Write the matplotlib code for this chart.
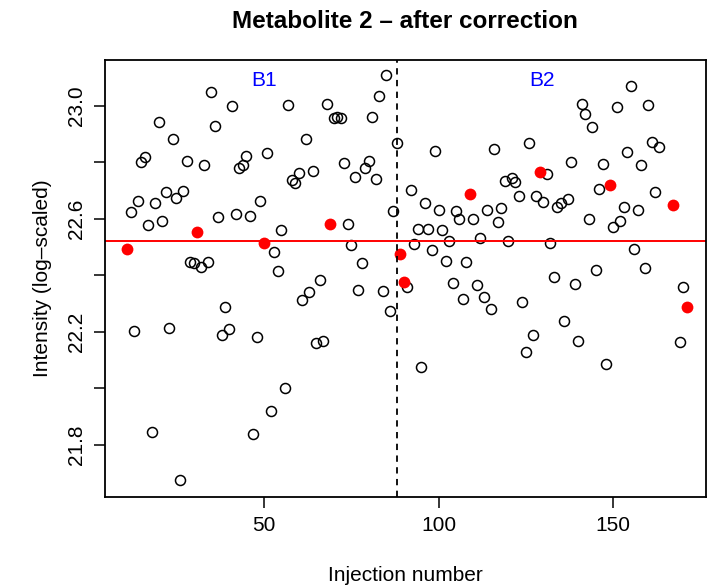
import numpy as np
import matplotlib.pyplot as plt

plt.rcParams['font.family'] = ['Liberation Sans', 'DejaVu Sans']

# batch 1: injections 11..89
b1_x = list(range(11, 90))
b1_y = [22.493, 22.626, 22.205, 22.664, 22.803, 22.821, 22.579, 21.847, 22.655, 22.942,
        22.594, 22.695, 22.213, 22.882, 22.673, 21.676, 22.699, 22.805, 22.447, 22.443,
        22.553, 22.431, 22.791, 22.449, 23.048, 22.930, 22.608, 22.189, 22.290, 22.211,
        23.001, 22.617, 22.782, 22.791, 22.824, 22.612, 21.839, 22.181, 22.663, 22.515,
        22.833, 21.920, 22.482, 22.416, 22.561, 22.001, 23.004, 22.738, 22.728, 22.762,
        22.313, 22.882, 22.343, 22.770, 22.161, 22.384, 22.168, 23.006, 22.581, 22.956,
        22.962, 22.956, 22.797, 22.581, 22.508, 22.750, 22.349, 22.443, 22.782, 22.805,
        22.960, 22.741, 23.036, 22.345, 23.110, 22.274, 22.629, 22.868, 22.476]

# batch 2: injections 90..171 (some missing)
b2_x = list(range(90, 164)) + [167, 169, 170, 171]
b2_y = [22.376, 22.360, 22.703, 22.510, 22.565, 22.075, 22.657, 22.565, 22.490, 22.841,
        22.632, 22.561, 22.451, 22.522, 22.372, 22.628, 22.600, 22.317, 22.447, 22.690,
        22.600, 22.366, 22.532, 22.325, 22.632, 22.281, 22.847, 22.588, 22.640, 22.735,
        22.522, 22.746, 22.732, 22.683, 22.305, 22.130, 22.868, 22.190, 22.681, 22.767,
        22.660, 22.759, 22.514, 22.396, 22.644, 22.658, 22.239, 22.669, 22.801, 22.369,
        22.168, 23.006, 22.972, 22.600, 22.925, 22.419, 22.706, 22.794, 22.086, 22.720,
        22.571, 22.998, 22.593, 22.644, 22.838, 23.072, 22.494, 22.632, 22.791, 22.428,
        23.004, 22.872, 22.697, 22.854, 22.650, 22.165, 22.358, 22.287]

# QC injections (red filled)
qc_x = [11, 31, 50, 69, 89, 90, 109, 129, 149, 167, 171]

qc_level = 22.523
batch_split = 88
batch_labels = ['B1', 'B2']
batch_label_x = [50, 129.5]

x = np.array(b1_x + b2_x)
y = np.array(b1_y + b2_y)
is_qc = np.isin(x, qc_x)

fig = plt.figure(figsize=(7.08, 5.88), dpi=100)
ax = fig.add_axes([0.148, 0.155, 0.849, 0.743])

ax.plot(x[~is_qc], y[~is_qc], 'o', mfc='none', mec='black', ms=7.2, mew=1.1)
ax.plot(x[is_qc], y[is_qc], 'o', color='red', ms=8.5, mew=0)
ax.axhline(qc_level, color='red', lw=1.4)
ax.axvline(batch_split, color='black', lw=1.3, ls=(0, (3.5, 3)))
for lab, bx in zip(batch_labels, batch_label_x):
    ax.text(bx, 23.092, lab, color='blue', ha='center', va='center', fontsize=15)

ax.set_xlim(4.5, 176.5)
ax.set_ylim(21.616, 23.163)
ax.set_xticks([50, 100, 150])
yt = [21.8, 22.0, 22.2, 22.4, 22.6, 22.8, 23.0]
ax.set_yticks(yt)
ax.set_yticklabels(['21.8', '', '22.2', '', '22.6', '', '23.0'], rotation=90, va='center')
ax.tick_params(labelsize=15, length=8, width=1.1)
ax.tick_params(axis='x', pad=6)
ax.tick_params(axis='y', pad=5.5)
for s in ax.spines.values():
    s.set_linewidth(1.3)

ax.set_xlabel('Injection number', fontsize=15, labelpad=22)
ax.set_ylabel('Intensity (log\u2013scaled)', fontsize=15, labelpad=11)
ax.set_title('Metabolite 2 \u2013 after correction', fontsize=17.5, fontweight='bold', pad=23)

fig.savefig('out.png', dpi=100)
